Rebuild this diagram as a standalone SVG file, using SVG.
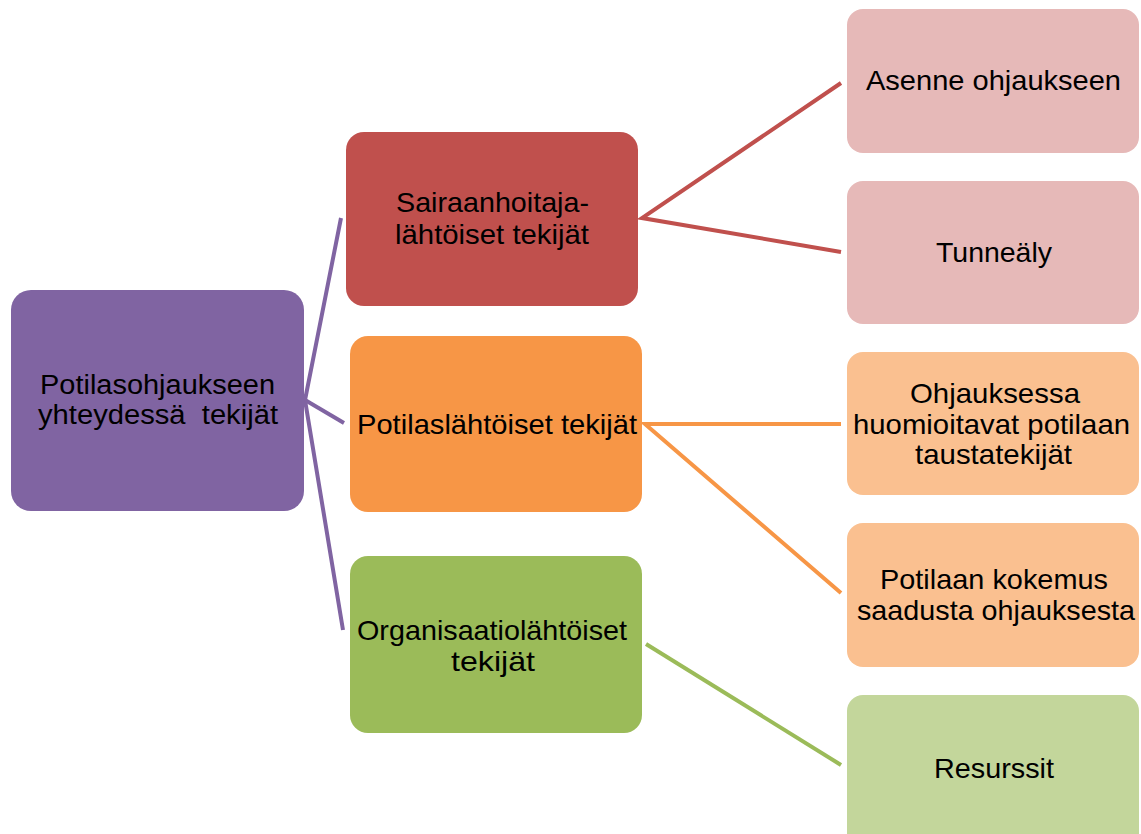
<svg xmlns="http://www.w3.org/2000/svg" width="1141" height="834" viewBox="0 0 1141 834">
<style>
text{font-family:"Liberation Sans",Arial,sans-serif;font-size:28px;fill:#000}
.root{font-size:27px}
.c{fill:none;stroke-width:4;stroke-linecap:butt}
</style>
<rect width="1141" height="834" fill="#fff"/>
<g id="connectors">
<polyline class="c" stroke="#8064A2" points="341,218 305,400 343,630"/>
<line class="c" stroke="#8064A2" x1="305" y1="400" x2="344" y2="423"/>
<polyline class="c" stroke="#C0504D" points="841,83 642,218 841,252"/>
<polyline class="c" stroke="#F79646" points="841,424 645,424 841,593"/>
<line class="c" stroke="#9BBB59" x1="646" y1="644" x2="841" y2="765"/>
</g>
<g id="root">
<rect x="11" y="290" width="293" height="221" rx="20" fill="#8064A2"/>
<text class="root" x="40" y="394" textLength="235" lengthAdjust="spacingAndGlyphs">Potilasohjaukseen</text>
<text class="root" x="38" y="424" textLength="240" lengthAdjust="spacingAndGlyphs" xml:space="preserve">yhteydessä  tekijät</text>
</g>
<g id="sairaanhoitaja">
<rect x="346" y="132" width="292" height="174" rx="18" fill="#C0504D"/>
<text x="396" y="212" textLength="193" lengthAdjust="spacingAndGlyphs">Sairaanhoitaja-</text>
<text x="395" y="244" textLength="194" lengthAdjust="spacingAndGlyphs">lähtöiset tekijät</text>
</g>
<g id="potilas">
<rect x="350" y="336" width="292" height="176" rx="18" fill="#F79646"/>
<text x="357" y="434" textLength="280" lengthAdjust="spacingAndGlyphs">Potilaslähtöiset tekijät</text>
</g>
<g id="organisaatio">
<rect x="350" y="556" width="292" height="177" rx="18" fill="#9BBB59"/>
<text x="357" y="640" textLength="270" lengthAdjust="spacingAndGlyphs">Organisaatiolähtöiset</text>
<text x="451" y="671" textLength="84" lengthAdjust="spacingAndGlyphs">tekijät</text>
</g>
<g id="asenne">
<rect x="847" y="9" width="292" height="144" rx="16" fill="#E6B9B8"/>
<text x="866" y="90" textLength="255" lengthAdjust="spacingAndGlyphs">Asenne ohjaukseen</text>
</g>
<g id="tunnealy">
<rect x="847" y="181" width="292" height="143" rx="16" fill="#E6B9B8"/>
<text x="936" y="262" textLength="116" lengthAdjust="spacingAndGlyphs">Tunneäly</text>
</g>
<g id="ohjauksessa">
<rect x="847" y="352" width="292" height="143" rx="16" fill="#FAC090"/>
<text x="910" y="403" textLength="170" lengthAdjust="spacingAndGlyphs">Ohjauksessa</text>
<text x="853" y="434" textLength="277" lengthAdjust="spacingAndGlyphs">huomioitavat potilaan</text>
<text x="915" y="464" textLength="157" lengthAdjust="spacingAndGlyphs">taustatekijät</text>
</g>
<g id="kokemus">
<rect x="847" y="523" width="292" height="144" rx="16" fill="#FAC090"/>
<text x="880" y="589" textLength="228" lengthAdjust="spacingAndGlyphs">Potilaan kokemus</text>
<text x="857" y="620" textLength="278" lengthAdjust="spacingAndGlyphs">saadusta ohjauksesta</text>
</g>
<g id="resurssit">
<rect x="847" y="695" width="292" height="160" rx="16" fill="#C3D69B"/>
<text x="934" y="778" textLength="120" lengthAdjust="spacingAndGlyphs">Resurssit</text>
</g>
</svg>
